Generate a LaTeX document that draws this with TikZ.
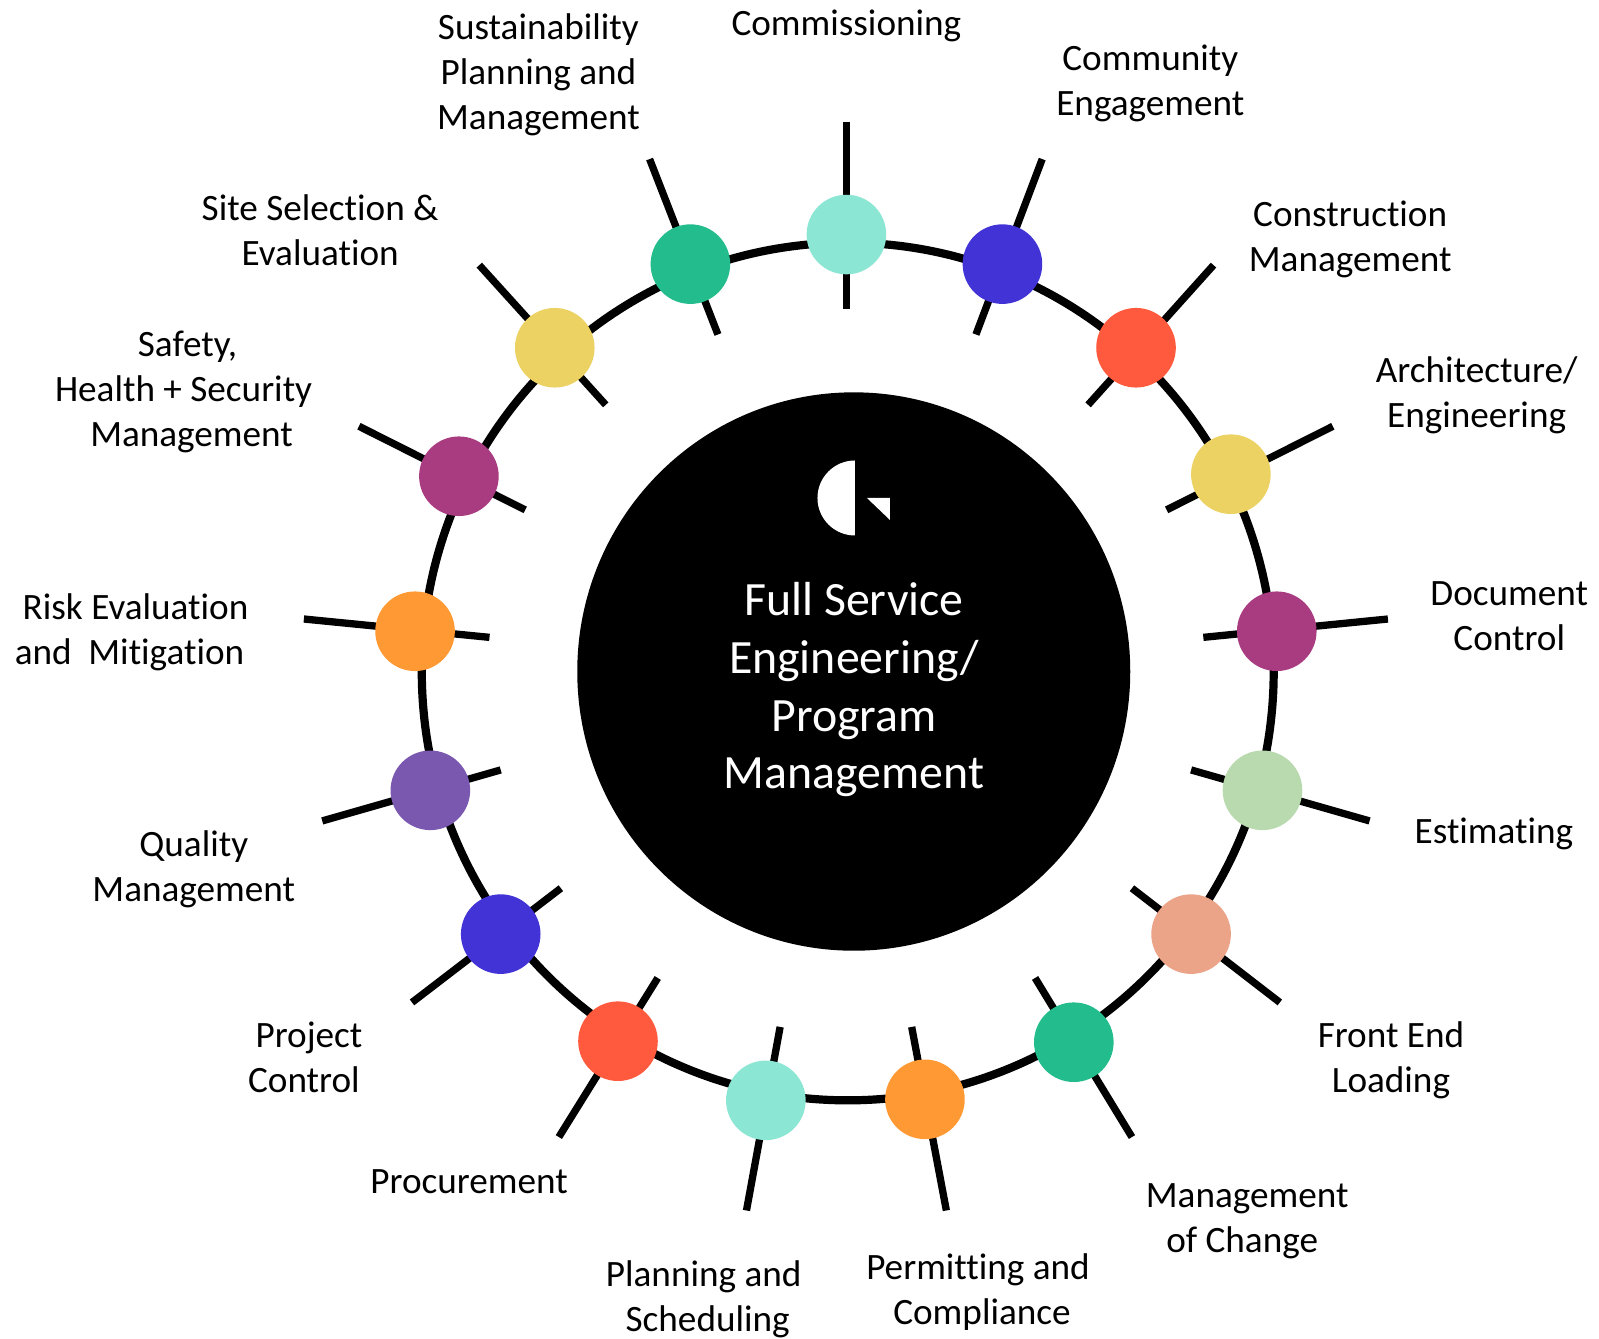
\documentclass[tikz,border=0pt]{standalone}
\usepackage{fontspec}
\usetikzlibrary{shapes.geometric}
\setmainfont[Ligatures=NoCommon]{Carlito}
\definecolor{cteal}{HTML}{8BE6D4}
\definecolor{cblue}{HTML}{4233D6}
\definecolor{cred}{HTML}{FF5A3D}
\definecolor{cyellow}{HTML}{ECD263}
\definecolor{cplum}{HTML}{A93C80}
\definecolor{csage}{HTML}{B9D9AE}
\definecolor{csalmon}{HTML}{ECA488}
\definecolor{cgreen}{HTML}{23BC8C}
\definecolor{corange}{HTML}{FF9933}
\definecolor{cpurple}{HTML}{7A58B0}
\tikzset{
  dot/.style={circle,fill=#1,draw=none,minimum size=79.6pt,inner sep=0pt},
  spoke/.style={draw=black,line width=7.3pt},
  ringline/.style={draw=black,line width=8.2pt},
  lbl/.style={align=center,inner sep=0pt,font=\fontsize{37.2}{45}\selectfont},
  hub/.style={ellipse,fill=black,minimum width=553pt,minimum height=558.4pt,inner sep=0pt},
  hubtext/.style={align=center,inner sep=0pt,text=white,font=\fontsize{47.8}{57.6}\selectfont}
}
\begin{document}
\begin{tikzpicture}[x=1.0198pt,y=-1.0198pt]
\useasboundingbox (0,0) rectangle (1568,1313);
\fill[white] (0,0) rectangle (1568,1313);
% ring
\coordinate (ringc) at (831.3,658.5);
\draw[ringline] (ringc) ellipse [x radius=417.7,y radius=420.5];
% spokes
\coordinate (a1) at (830,120);  \coordinate (b1) at (830,303);
\coordinate (a2) at (1022,156); \coordinate (b2) at (957,328);
\coordinate (a3) at (1190,260); \coordinate (b3) at (1067,397);
\coordinate (a4) at (1307,418); \coordinate (b4) at (1144,500);
\coordinate (a5) at (1361,607); \coordinate (b5) at (1180,625);
\coordinate (a6) at (1343,805); \coordinate (b6) at (1168,755);
\coordinate (a7) at (1255,983); \coordinate (b7) at (1110,871);
\coordinate (a8) at (1110,1115);\coordinate (b8) at (1015,959);
\coordinate (a9) at (928,1187); \coordinate (b9) at (894,1007);
\coordinate (a10) at (732,1187);\coordinate (b10) at (765,1007);
\coordinate (a11) at (548,1115);\coordinate (b11) at (645,959);
\coordinate (a12) at (404,983); \coordinate (b12) at (550,871);
\coordinate (a13) at (316,805); \coordinate (b13) at (491,755);
\coordinate (a14) at (298,607); \coordinate (b14) at (480,625);
\coordinate (a15) at (352,418); \coordinate (b15) at (515,500);
\coordinate (a16) at (470,260); \coordinate (b16) at (594,397);
\coordinate (a17) at (637,156); \coordinate (b17) at (704,328);
\foreach \i in {1,...,17} \draw[spoke] (a\i) -- (b\i);
% dots
\node[dot=cteal]   (d1)  at (830,230) {};
\node[dot=cblue]   (d2)  at (983,259) {};
\node[dot=cred]    (d3)  at (1114,341) {};
\node[dot=cyellow] (d4)  at (1207,465) {};
\node[dot=cplum]   (d5)  at (1252,619) {};
\node[dot=csage]   (d6)  at (1238,775) {};
\node[dot=csalmon] (d7)  at (1168,916) {};
\node[dot=cgreen]  (d8)  at (1053,1022) {};
\node[dot=corange] (d9)  at (907,1078) {};
\node[dot=cteal]   (d10) at (751,1079) {};
\node[dot=cred]    (d11) at (606,1021) {};
\node[dot=cblue]   (d12) at (491,916) {};
\node[dot=cpurple] (d13) at (422,775) {};
\node[dot=corange] (d14) at (407,619) {};
\node[dot=cplum]   (d15) at (450,467) {};
\node[dot=cyellow] (d16) at (544,341) {};
\node[dot=cgreen]  (d17) at (677,259) {};
% hub
\node[hub] (hub) at (837.2,658.5) {};
\node[hubtext] (hubt) at (837.5,676.5) {Full Service\\Engineering/\\Program\\Management};
% logo
\begin{scope}[x=1pt,y=-1pt]
\fill[white] (855,535.5) arc[start angle=90,end angle=270,radius=37.5] -- cycle;
\fill[white] (867,498) -- (890,498) -- (890,520) -- cycle;
\end{scope}
% labels
\node[lbl] (l1)  at (830,25) {Commissioning};
\node[lbl] (l2)  at (1128,82) {Community\\Engagement};
\node[lbl] (l3)  at (1324,235) {Construction\\Management};
\node[lbl] (l4)  at (1448,387.5) {Architecture/\\Engineering};
\node[lbl] (l5)  at (1480,604) {Document\\Control};
\node[lbl] (l6)  at (1465,818) {Estimating};
\node[lbl] (l7)  at (1364,1040) {Front End\\Loading};
\node[lbl] (l8)  at (1223,1198) {Management\\of Change\hspace*{10pt}};
\node[lbl] (l9)  at (961,1267) {Permitting and\hspace*{4pt}\\\hspace*{4pt}Compliance};
\node[lbl] (l10) at (692,1274.5) {Planning and\hspace*{4pt}\\\hspace*{4pt}Scheduling};
\node[lbl] (l11) at (460,1159) {Procurement};
\node[lbl] (l12) at (300,1037) {\hspace*{6pt}Project\\Control\hspace*{4pt}};
\node[lbl] (l13) at (190,852) {Quality\\Management};
\node[lbl] (l14) at (127,620) {\hspace*{12pt}Risk Evaluation\\and\ \ Mitigation};
\node[lbl] (l15) at (180,384) {Safety,\hspace*{-8pt}\\Health + Security\\\hspace*{16pt}Management};
\node[lbl] (l16) at (314,226) {Site Selection \&\\Evaluation};
\node[lbl] (l17) at (528,73) {Sustainability\\Planning and\\Management};
\end{tikzpicture}
\end{document}
